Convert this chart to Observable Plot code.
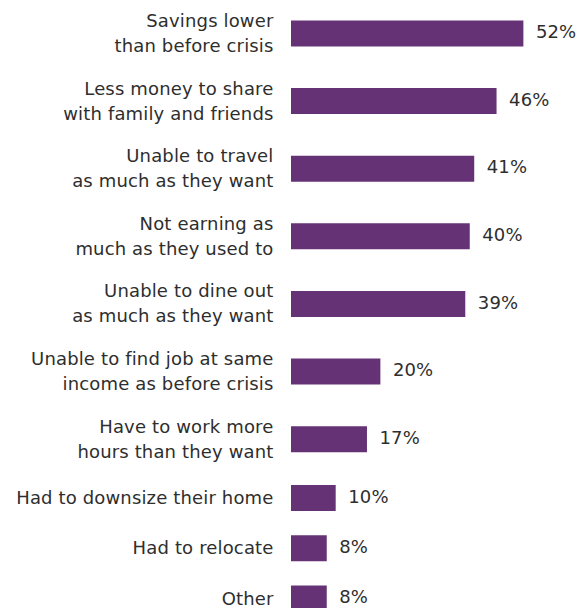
<!DOCTYPE html>
<html>
<head>
<meta charset="utf-8">
<script src="https://cdn.jsdelivr.net/npm/d3@7"></script>
<script src="https://cdn.jsdelivr.net/npm/@observablehq/plot@0.6"></script>
<style>
  html, body { margin: 0; padding: 0; background: #fff; }
  #chart svg { display: block; }
  #chart text { letter-spacing: 0.15px; }
</style>
</head>
<body>
<div id="chart"></div>
<script>
const categories = [
  "Savings lower\nthan before crisis",
  "Less money to share\nwith family and friends",
  "Unable to travel\nas much as they want",
  "Not earning as\nmuch as they used to",
  "Unable to dine out\nas much as they want",
  "Unable to find job at same\nincome as before crisis",
  "Have to work more\nhours than they want",
  "Had to downsize their home",
  "Had to relocate",
  "Other"
];
const values = [52, 46, 41, 40, 39, 20, 17, 10, 8, 8];

// Row size in layout units depends on label line count
let acc = 0;
const data = categories.map((label, i) => {
  const lines = label.split("\n").length;
  const size = lines === 2 ? 1.346 : 1;
  const center = acc + size / 2;
  acc += size;
  return {label, value: values[i], center, text: values[i] + "%"};
});

const fontFamily = "'DejaVu Sans', sans-serif";
const ink = "#2e2e2e";
const chart = Plot.plot({
  width: 578,
  height: 608,
  marginLeft: 291,
  marginRight: 1,
  marginTop: 0,
  marginBottom: 0,
  style: {fontFamily, color: ink, background: "#fff"},
  x: {domain: [0, 64], axis: null},
  y: {domain: [data[0].center, data[data.length - 1].center], range: [33, 598], axis: null},
  marks: [
    Plot.ruleY(data, {y: "center", x1: 0, x2: "value", stroke: "#663276", strokeWidth: 26}),
    Plot.text(data, {y: "center", x: 0, text: "label", textAnchor: "end", dx: -18, dy: -2, fontSize: 18, lineHeight: 1.39, fill: ink}),
    Plot.text(data, {y: "center", x: "value", text: "text", textAnchor: "start", dx: 12, dy: -1, fontSize: 18, fill: ink})
  ]
});
document.getElementById("chart").appendChild(chart);
</script>
</body>
</html>
